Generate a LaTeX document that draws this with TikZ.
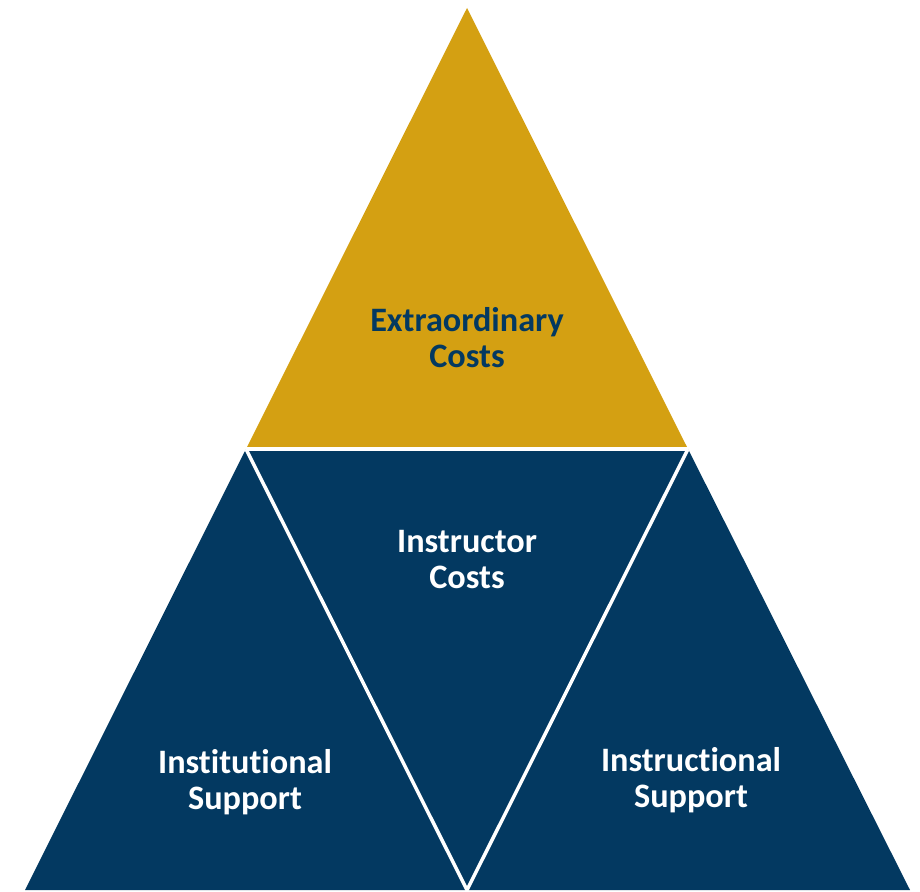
\documentclass[tikz,border=0pt]{standalone}
\usepackage{fontspec}
\setmainfont{Carlito}[Ligatures={NoCommon}]
\usepackage{xcolor}
\definecolor{gold}{RGB}{212,160,18}
\definecolor{navy}{RGB}{3,57,97}
\tikzset{
  label/.style={font=\bfseries\fontsize{19.5}{20.5}\selectfont,align=center,inner sep=0pt},
  gap/.style={white,line width=0.07cm}
}

\begin{document}
\begin{tikzpicture}[x=0.02cm,y=-0.02cm]
\useasboundingbox (0,0) rectangle (920,892);
\coordinate (A) at (467,8);
\coordinate (L) at (246,449);
\coordinate (R) at (688,449);
\coordinate (BL) at (25,890);
\coordinate (BM) at (467,890);
\coordinate (BR) at (910,890);
% lower part in blue, top triangle in gold
\fill[navy] (L)--(R)--(BR)--(BL)--cycle;
\fill[gold] (A)--(L)--(R)--cycle;
\draw[gap] (L)--(R);
\draw[gap] (L)--(BM)--(R);
\node[label,navy] (extra) at (467,338) {Extraordinary\\Costs};
\node[label,white] (instr) at (467,560) {Instructor\\Costs};
\node[label,white] (inst) at (245,782) {Institutional\\Support};
\node[label,white] (instl) at (691,780) {Instructional\\Support};
\end{tikzpicture}
\end{document}
